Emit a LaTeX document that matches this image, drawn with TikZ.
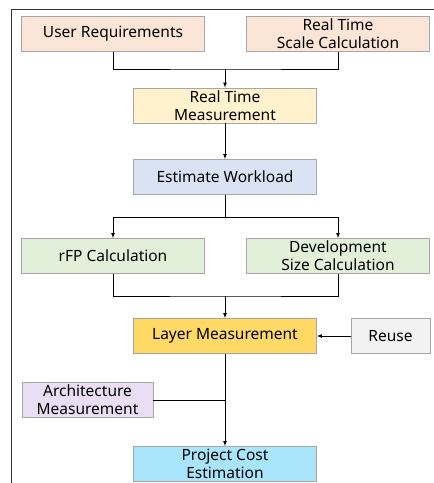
\documentclass[tikz,border=0pt]{standalone}
\usepackage{fontspec}
\setmainfont{Noto Sans}
\usepackage{tikz}
\usetikzlibrary{arrows}
\definecolor{reqfill}{HTML}{FBE5D6}
\definecolor{measfill}{HTML}{FFF2CC}
\definecolor{workfill}{HTML}{DAE3F3}
\definecolor{calcfill}{HTML}{E2F0D9}
\definecolor{layerfill}{HTML}{FFD966}
\definecolor{reusefill}{HTML}{F2F2F2}
\definecolor{archfill}{HTML}{E9DEF3}
\definecolor{costfill}{HTML}{A8E5FA}
\tikzset{basic/.style={draw=black!35,line width=0.8pt,align=center,
                       text badly centered,minimum height=35pt,inner sep=1pt,
                       font=\fontsize{15.5}{18}\selectfont}}
\tikzset{wide/.style={basic,minimum width=183pt}}
\tikzset{link/.style={line width=0.7pt}}

\begin{document}
\begin{tikzpicture}[>=latex,x=1pt,y=-1pt]
  \useasboundingbox (0,0) rectangle (434,483);
  % frame round the chart
  \draw[line width=1pt,black!80] (11,483) -- (11,9) -- (434,9);

  % First line: inputs
  \node (user_req) [wide,fill=reqfill] at (113,34) {User Requirements};
  \node (rt_scale) [wide,fill=reqfill] at (338,34) {Real Time\\Scale Calculation};
  % Middle column
  \node (rt_meas)  [wide,fill=measfill] at (225,105.5) {Real Time\\Measurement};
  \node (est_work) [wide,fill=workfill] at (225,177) {Estimate Workload};
  \node (rfp_calc) [wide,fill=calcfill] at (113,256) {rFP Calculation};
  \node (dev_size) [wide,fill=calcfill] at (338,256) {Development\\Size Calculation};
  \node (layer)    [wide,fill=layerfill] at (225,336) {Layer Measurement};
  \node (reuse)    [basic,fill=reusefill,minimum width=79pt] at (390.5,336) {Reuse};
  \node (arch)     [basic,fill=archfill,minimum width=131pt] at (87.5,400) {Architecture\\Measurement};
  \node (cost)     [wide,fill=costfill] at (225,464) {Project Cost\\Estimation};

  % joints of the connectors
  \coordinate (j_in)    at (225,69);
  \coordinate (j_split) at (225,217);
  \coordinate (j_merge) at (225,296);
  \coordinate (j_arch)  at (225,400);

  % The diagram elements are now connected through arrows:
  \draw[link] (user_req.south) |- (j_in) -| (rt_scale.south);
  \draw[link,->] (j_in) -- (rt_meas.north);
  \draw[link,->] (rt_meas) -- (est_work);
  \draw[link] (est_work.south) -- (j_split);
  \draw[link,->] (j_split) -| (rfp_calc.north);
  \draw[link,->] (j_split) -| (dev_size.north);
  \draw[link] (rfp_calc.south) |- (j_merge) -| (dev_size.south);
  \draw[link,->] (j_merge) -- (layer.north);
  \draw[link,->] (reuse) -- (layer);
  \draw[link,->] (layer) -- (cost);
  \draw[link] (arch.east) -- (j_arch);
\end{tikzpicture}
\end{document}
